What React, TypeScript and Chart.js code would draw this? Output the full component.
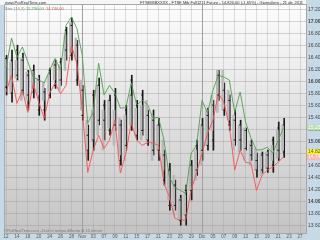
import React, { useEffect, useRef } from "react";
import { Chart, registerables } from "chart.js";
Chart.register(...registerables);

// x-axis tick labels (one per two sessions)
const dateLabels = ["12","14","18","20","24","26","28","Nov","03","07","09","11","15","17","21","23","25","29","Dic","05","07","09","13","15","19","21","23","27"];
// y-axis tick values
const yTicks = [13600,13800,14000,14200,14400,14600,14800,15000,15200,15400,15600,15800,16000,16200,16400,16600,16800,17000,17200];

// upper band (green)
const upperBand = [16230,16720,16400,16570,16320,16070,16020,15970,16180,16380,16180,16930,17070,16880,16430,15300,15480,16300,15770,15930,15800,15550,15560,15970,15600,15680,15610,15380,15400,15020,14400,14230,14180,14130,14800,14930,15680,15470,15850,16100,16070,16020,15480,15820,15320,15050,14850,14860,14900,14800,15020,15230];
// lower band (red)
const lowerBand = [15820,16100,15630,15850,15480,15970,15650,15380,15800,15970,15790,15930,16600,16300,15520,14480,14850,15100,14880,15020,15350,14470,14800,15300,15020,14930,14980,14970,14930,14300,14070,13720,13680,13690,14180,14480,14800,15130,15350,15800,15650,15270,14520,14850,14650,14630,14180,14430,14520,14570,14650,14740];

// price bars (black)
const barHigh = [16430,16520,16600,16470,16180,16270,16100,15880,16220,16350,16380,16900,17050,16680,15930,15270,15850,16050,15680,15770,15880,15350,15600,16100,15680,15850,15520,15520,15380,14850,14630,14350,14100,14270,14680,15020,15380,15550,15680,16180,15970,15770,15520,15350,15220,15020,14800,14820,14850,15070,15320,15380];
const barLow = [15770,15650,16020,15770,15520,15720,15430,15350,15720,15880,15930,16350,16350,15930,15350,14680,14850,15270,15020,15100,15180,14600,14850,15180,15020,15100,14930,14770,14680,14270,13850,13850,13600,13600,14020,14430,14680,14850,14850,15680,15430,15180,14930,14850,14850,14680,14400,14470,14480,14480,14680,14730];
const barOpen = [15900,16350,16100,16350,15770,16180,16020,15520,15770,16270,16020,16520,16930,16600,15850,15100,15020,15930,15350,15680,15270,15270,14930,15770,15600,15180,15430,15350,14850,14770,14520,14270,14020,13770,14180,14520,14850,15430,15020,15770,15850,15680,15350,15020,15180,14930,14680,14520,14770,14600,14850,15270];
const barClose = [16380,15800,16520,15850,16100,15820,15520,15820,16180,15930,16320,16850,16430,16020,15430,14850,15770,15350,15600,15180,15770,14680,15520,16020,15100,15770,15020,14850,15270,14350,13930,13930,13680,14180,14600,14930,15270,14930,15600,16100,15520,15270,15020,15270,14880,14770,14520,14770,14550,15020,15220,14820];

// secondary bars (grey)
const greyHigh = [16380,16320,16350,16380,16150,16180,16050,15970,16100,16320,16270,16770,16980,16720,16020,15350,15520,15930,15520,15680,15520,15380,15430,15770,15550,15600,15680,15430,15270,15020,14520,14430,14050,14100,14600,14850,15270,15520,15770,16180,16180,15850,15430,15270,15220,14970,14880,14770,14820,14930,15180,15270];
const greyLow = [15930,15820,16050,15680,15680,15880,15770,15680,15820,16020,15850,16180,16480,16350,15520,14850,15020,15100,14850,15220,14930,14770,14680,15270,15100,15020,15020,14680,14850,14520,14020,13770,13680,13770,14180,14350,14600,14930,15180,15480,15520,15350,14850,14820,14680,14600,14520,14430,14550,14680,14720,14850];

const fmt = (v: number) => Math.round(v).toString().replace(/\B(?=(\d{3})+(?!\d))/g, ".");
const FONT = "'Liberation Sans', Arial, sans-serif";

export default function App() {
  const ref = useRef<HTMLCanvasElement>(null);
  useEffect(() => {
    document.body.style.margin = "0";
    const idx = upperBand.map((_, i) => i);
    const last = upperBand.length - 1;

    const framePlugin = {
      id: "frame",
      beforeDraw(chart: any) {
        const { ctx, chartArea: a, width, height } = chart;
        ctx.save();
        ctx.fillStyle = "#c6d9e6";
        ctx.fillRect(0, 0, width, height);
        ctx.fillStyle = "#f4f6f8";
        ctx.fillRect(0, 0, width - 14, a.top);
        const g = ctx.createLinearGradient(0, a.top, 0, a.bottom);
        g.addColorStop(0, "#fdfdfd");
        g.addColorStop(1, "#c4c4c4");
        ctx.fillStyle = g;
        ctx.fillRect(a.left, a.top, a.right - a.left, a.bottom - a.top);
        ctx.restore();
      },
      afterDraw(chart: any) {
        const { ctx, chartArea: a, scales } = chart;
        const y = scales.y;
        ctx.save();
        ctx.strokeStyle = "#a8a8a8";
        ctx.lineWidth = 1;
        ctx.strokeRect(a.left - 0.5, a.top - 0.5, a.right - a.left + 1, a.bottom - a.top + 1);
        ctx.textBaseline = "middle";
        ctx.font = `4px ${FONT}`;
        ctx.fillStyle = "#333";
        ctx.textAlign = "left";
        ctx.fillText("www.ProRealTime.com", 5, 2.5);
        ctx.fillText("FTSEMIBXXXX - FTSE Mib Full1211 Future - 14.820,00 (-1,65%) - Giornaliero - 21 dic 2011", 140, 2.5);
        // legend
        ctx.fillStyle = "#888";
        ctx.fillText("Stoc (10,3)", 5, 9);
        ctx.fillStyle = "#4a9a4a";
        ctx.fillText("15.230,00", 26, 9);
        ctx.fillStyle = "#e04848";
        ctx.fillText("14.740,00", 46, 9);
        // copyright
        ctx.fillStyle = "#777";
        ctx.fillText("©ProRealTime.com - Dati in tempo differito di 15 minuti", 4, a.bottom - 2.5);
        // value boxes
        const boxes = [
          { v: upperBand[last], bg: "#b6dcae", fg: "#ffffff" },
          { v: barClose[last], bg: "#ffff00", fg: "#555" },
          { v: lowerBand[last], bg: "#ffb4b4", fg: "#ffffff" },
        ];
        ctx.font = `5px ${FONT}`;
        for (const b of boxes) {
          const py = y.getPixelForValue(b.v);
          ctx.fillStyle = b.bg;
          ctx.fillRect(a.right + 1, py - 3, 13, 6);
          ctx.fillStyle = b.fg;
          ctx.fillText(fmt(b.v), a.right + 2, py);
        }
        ctx.restore();
      },
    };

    const chart = new Chart(ref.current!, {
      type: "bar",
      data: {
        datasets: [
          {
            type: "line",
            data: idx.map((i) => ({ x: i, y: upperBand[i] })),
            borderColor: "rgba(80,160,80,0.9)",
            borderWidth: 1,
            pointRadius: 0,
            tension: 0,
            order: 1,
          },
          {
            type: "line",
            data: idx.map((i) => ({ x: i, y: lowerBand[i] })),
            borderColor: "rgba(250,80,80,0.9)",
            borderWidth: 1,
            pointRadius: 0,
            tension: 0,
            order: 1,
          },
          {
            type: "bar",
            data: idx.map((i) => ({ x: i, y: [greyLow[i], greyHigh[i]] })),
            backgroundColor: "#b8b8b8",
            barThickness: 2,
            order: 2,
          },
          {
            type: "bar",
            data: idx.map((i) => ({ x: i, y: [barLow[i], barHigh[i]] })),
            backgroundColor: "#1a1a1a",
            barThickness: 1,
            order: 2,
          },
          {
            type: "scatter",
            data: idx.map((i) => ({ x: i, y: barOpen[i] })),
            pointStyle: "line",
            pointRadius: 1,
            pointBorderWidth: 1,
            borderColor: "#1a1a1a",
            backgroundColor: "#1a1a1a",
            order: 0,
          },
          {
            type: "scatter",
            data: idx.map((i) => ({ x: i, y: barClose[i] })),
            pointStyle: "line",
            pointRadius: 1,
            pointBorderWidth: 1,
            borderColor: "#1a1a1a",
            backgroundColor: "#1a1a1a",
            order: 0,
          },
        ] as any,
      },
      options: {
        responsive: false,
        animation: false,
        events: [],
        layout: { padding: { top: 5, left: 3, right: 0, bottom: 0 } },
        plugins: { legend: { display: false }, tooltip: { enabled: false } },
        scales: {
          x: {
            type: "linear",
            min: -0.2,
            max: 55.1,
            offset: false,
            grid: {
              offset: false,
              drawTicks: false,
              color: (c: any) => {
                const l = dateLabels[Math.round((c.tick?.value ?? 0) / 2)];
                return l && isNaN(Number(l)) ? "#a0a0a0" : "rgba(160,160,160,0.35)";
              },
            },
            border: { display: false },
            ticks: {
              stepSize: 2,
              includeBounds: false,
              autoSkip: false,
              maxRotation: 0,
              padding: 1,
              color: "#555",
              font: { size: 4.5, family: FONT },
              callback: (v: any) => dateLabels[Math.round(Number(v) / 2)] ?? "",
            },
            afterFit: (s: any) => {
              s.height = 7;
            },
          },
          y: {
            position: "right",
            min: 13470,
            max: 17270,
            grid: { drawTicks: false, color: "rgba(150,150,150,0.4)" },
            border: { display: false },
            afterBuildTicks: (s: any) => {
              s.ticks = yTicks.map((v) => ({ value: v }));
            },
            ticks: {
              autoSkip: false,
              padding: 2,
              color: "#444",
              font: (c: any) => ({
                size: 5,
                family: FONT,
                weight: c.tick && c.tick.value % 1000 === 0 ? "bold" : "normal",
              }),
              callback: (v: any) => fmt(Number(v)),
            },
            afterFit: (s: any) => {
              s.width = 14;
            },
          },
        },
      } as any,
      plugins: [framePlugin],
    });
    return () => chart.destroy();
  }, []);
  return (
    <div style={{ position: "absolute", left: 0, top: 0, width: 320, height: 240 }}>
      <canvas ref={ref} width={320} height={240} style={{ display: "block" }} />
    </div>
  );
}
